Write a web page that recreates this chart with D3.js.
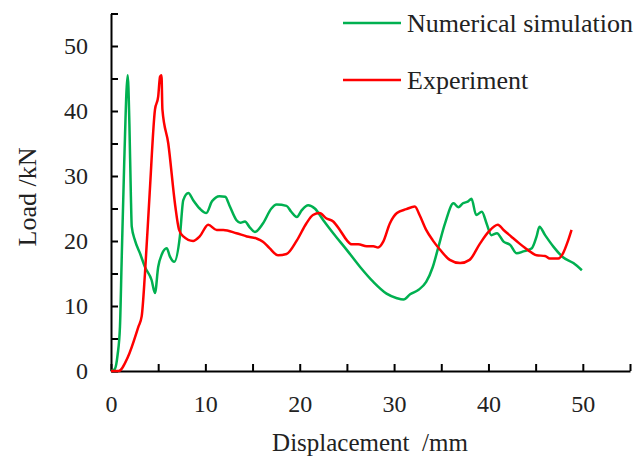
<!DOCTYPE html>
<html>
<head>
<meta charset="utf-8">
<script src="https://cdn.jsdelivr.net/npm/d3@7"></script>
<style>
  html, body { margin: 0; padding: 0; background: #fff; }
  #chart { width: 638px; height: 456px; }
  svg text { font-family: "Liberation Serif", "Times New Roman", serif; fill: #222; }
</style>
</head>
<body>
<div id="chart"></div>
<script>
// Numerical simulation (green)
const simX = [0, 0.4, 0.7, 0.95, 1.13, 1.4, 1.77, 1.95, 2.1, 2.2, 2.54, 3.1, 3.6, 4.3, 4.66, 5.0, 5.4, 5.9, 6.25, 6.7,
    7.3, 7.66, 8.2, 8.7, 9.4, 10.1, 10.7, 11.5, 12.1, 12.6, 13.3, 13.7, 14.2, 14.7, 15.25, 16.1, 17.0, 17.55, 18.6, 19.1,
    19.7, 20.2, 20.9, 21.6, 22.5, 23.55, 25.0, 26.4, 27.8, 29.2, 30.3, 31.0, 31.7, 32.6, 33.4, 34.1, 34.7, 35.4, 36.3, 36.8,
    37.3, 37.85, 38.2, 38.7, 39.3, 39.8, 40.3, 40.9, 41.6, 42.3, 43.0, 43.7, 44.6, 45.1, 45.4, 46.0, 46.9, 47.9, 49.0, 49.9];
const simY = [0, 0.3, 2.5, 6.8, 17, 32, 45.5, 38, 27.4, 22.2, 20.1, 18, 16, 14, 12, 16, 18, 18.9, 17.6, 16.8,
    20.7, 26.3, 27.4, 26.3, 25.0, 24.3, 26.1, 26.9, 26.8, 25.3, 23.2, 22.8, 23.0, 22.1, 21.4, 22.7, 25.0, 25.6, 25.4, 24.5,
    23.7, 24.7, 25.5, 25.0, 23.2, 21.2, 18.6, 16.0, 13.7, 11.9, 11.2, 11.0, 11.8, 12.5, 13.7, 16.0, 19.1, 22.7, 25.8, 25.2,
    25.8, 26.1, 26.5, 24.0, 24.5, 22.7, 20.9, 21.2, 19.9, 19.4, 18.1, 18.4, 18.9, 20.7, 22.2, 20.9, 19.1, 17.5, 16.6, 15.5];

// Experiment (red)
const expX = [0, 0.8, 1.8, 2.9, 3.25, 3.6, 4.1, 4.66, 5.0, 5.2, 5.35, 5.45, 6.07, 6.8, 7.2, 7.66, 8.7, 9.4, 10.3, 11.2,
    11.9, 13.3, 14.4, 15.4, 16.1, 16.8, 17.7, 18.6, 19.7, 20.7, 21.4, 22.1, 22.8, 23.55, 24.25, 25.0, 25.5, 26.2, 27.1, 27.8,
    28.3, 28.85, 29.55, 30.3, 31.3, 32.2, 32.7, 33.4, 34.1, 34.85, 35.9, 37.0, 38.0, 39.1, 40.0, 41.0, 41.6, 42.4, 43.3, 44.2,
    45.1, 46.0, 46.5, 47.4, 47.9, 48.4, 48.8];
const expY = [0, 0, 2.2, 6.8, 8.4, 15, 27.4, 40.2, 42.2, 45.3, 45.5, 40.2, 35, 25.5, 21.8, 20.7, 20.0, 20.7, 22.5, 21.7,
    21.7, 21.2, 20.7, 20.4, 19.9, 18.9, 17.8, 18.0, 20.1, 22.7, 24.0, 24.3, 23.5, 23.0, 21.7, 20.1, 19.5, 19.5, 19.2, 19.2,
    19.0, 19.9, 22.7, 24.3, 24.9, 25.3, 24.0, 21.7, 20.1, 18.7, 17.1, 16.6, 17.1, 19.6, 21.4, 22.5, 21.7, 20.7, 19.6, 18.6,
    17.8, 17.7, 17.3, 17.3, 18.1, 19.9, 21.7];

const tickVals = d3.range(0, 56, 5);
const seriesNames = ['Numerical simulation', 'Experiment'];
const seriesColors = ['#00b050', '#ff0000'];

const serif = '"Liberation Serif", "Times New Roman", serif';
const width = 638, height = 456;
const svg = d3.select('#chart').append('svg')
    .attr('width', width)
    .attr('height', height);

const x = d3.scaleLinear().domain([0, 55]).range([111, 630]);
const y = d3.scaleLinear().domain([0, 55]).range([371, 13.5]);

const fmt = d => (d % 10 === 0 ? d : '');

// Axes (ticks point inward)
const xAxis = svg.append('g')
    .attr('transform', `translate(0,${y(0)})`)
    .call(d3.axisBottom(x).tickValues(tickVals).tickFormat(fmt)
        .tickSizeInner(-7).tickSizeOuter(0).tickPadding(24));

const yAxis = svg.append('g')
    .attr('transform', `translate(${x(0)},0)`)
    .call(d3.axisLeft(y).tickValues(tickVals).tickFormat(fmt)
        .tickSizeInner(-7).tickSizeOuter(0).tickPadding(23));

[xAxis, yAxis].forEach(g => {
    g.attr('font-family', serif).attr('font-size', 24);
    g.select('.domain').attr('stroke', '#000').attr('stroke-width', 2);
    g.selectAll('.tick line').attr('stroke', '#000').attr('stroke-width', 2);
    g.selectAll('.tick text')
        .style('font-family', serif)
        .style('font-size', '24px')
        .attr('fill', '#222');
});

// Lines
const line = d3.line()
    .x(d => x(d[0]))
    .y(d => y(d[1]))
    .curve(d3.curveMonotoneX);

const simData = simX.map((v, i) => [v, simY[i]]);
const expData = expX.map((v, i) => [v, expY[i]]);

svg.append('path')
    .datum(simData)
    .attr('d', line)
    .attr('fill', 'none')
    .attr('stroke', seriesColors[0])
    .attr('stroke-width', 2.5);

svg.append('path')
    .datum(expData)
    .attr('d', line)
    .attr('fill', 'none')
    .attr('stroke', seriesColors[1])
    .attr('stroke-width', 2.5);

// Axis titles
svg.append('text')
    .attr('x', 370)
    .attr('y', 451)
    .attr('text-anchor', 'middle')
    .attr('font-size', 25)
    .style('white-space', 'pre')
    .text('Displacement  /mm');

svg.append('text')
    .attr('transform', 'translate(36,197) rotate(-90)')
    .attr('text-anchor', 'middle')
    .attr('font-size', 26)
    .text('Load /kN');

// Legend
const legend = svg.append('g')
    .selectAll('g')
    .data(seriesNames)
    .join('g')
    .attr('transform', (d, i) => `translate(0,${23 + i * 57})`);

legend.append('line')
    .attr('x1', 343)
    .attr('x2', 401)
    .attr('stroke', (d, i) => seriesColors[i])
    .attr('stroke-width', 2.5);

legend.append('text')
    .attr('x', 407)
    .attr('y', 9)
    .attr('font-size', 26)
    .text(d => d);
</script>
</body>
</html>
